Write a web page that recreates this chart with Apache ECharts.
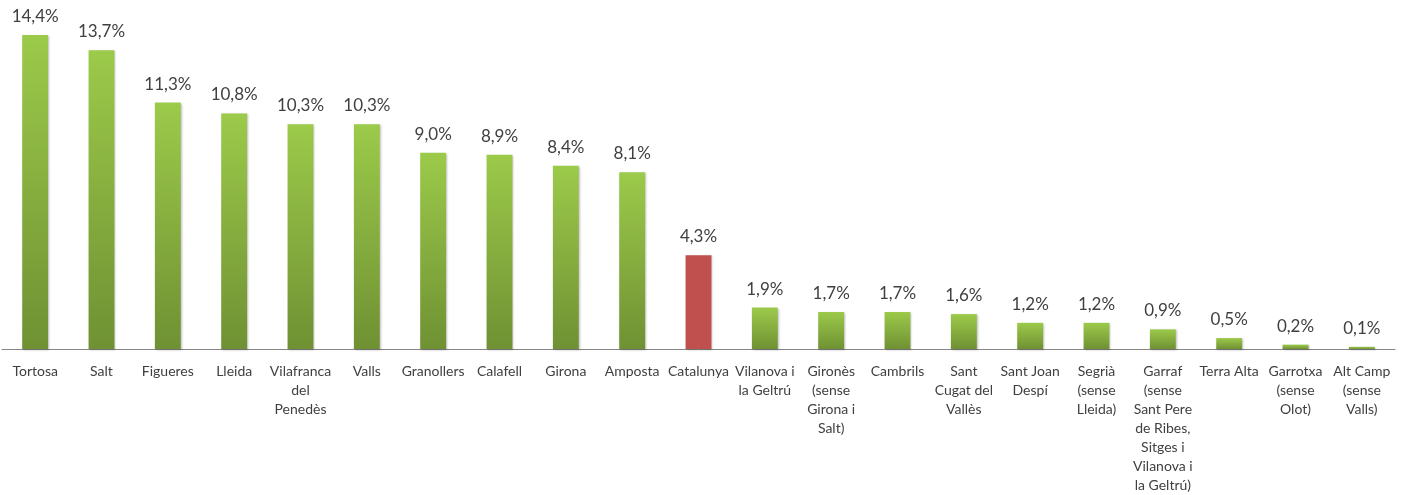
<!DOCTYPE html>
<html>
<head>
<meta charset="utf-8">
<script src="https://cdn.jsdelivr.net/npm/echarts@6/dist/echarts.min.js"></script>
<style>html,body{margin:0;padding:0;background:#fff;}#c{width:1408px;height:495px;}</style>
</head>
<body>
<div id="c"></div>
<script>
var categories = ["Tortosa","Salt","Figueres","Lleida","Vilafranca\ndel\nPenedès","Valls","Granollers","Calafell","Girona","Amposta","Catalunya","Vilanova i\nla Geltrú","Gironès\n(sense\nGirona i\nSalt)","Cambrils","Sant\nCugat del\nVallès","Sant Joan\nDespí","Segrià\n(sense\nLleida)","Garraf\n(sense\nSant Pere\nde Ribes,\nSitges i\nVilanova i\nla Geltrú)","Terra Alta","Garrotxa\n(sense\nOlot)","Alt Camp\n(sense\nValls)"];
var values = [14.4,13.7,11.3,10.8,10.3,10.3,9.0,8.9,8.4,8.1,4.3,1.9,1.7,1.7,1.6,1.2,1.2,0.9,0.5,0.2,0.1];
var highlight = "Catalunya";

var green = new echarts.graphic.LinearGradient(0,0,0,1,[{offset:0,color:'#9CCA4A'},{offset:1,color:'#6F9133'}]);
var data = values.map(function(v,i){
  return {value:v, itemStyle:{color: categories[i]===highlight ? '#C0504D' : green}};
});
var chart = echarts.init(document.getElementById('c'));
chart.setOption({
  animation:false,
  grid:{left:2,right:13,top:0,bottom:143,containLabel:false},
  xAxis:{type:'category',data:categories,
    axisLine:{lineStyle:{color:'#868686',width:1}},
    axisTick:{show:false},
    axisLabel:{interval:0,margin:13,color:'#404040',fontFamily:'Lato',fontSize:14,lineHeight:19,align:'center',verticalAlign:'top'}},
  yAxis:{type:'value',min:0,max:16,show:false,splitLine:{show:false}},
  series:[{type:'bar',data:data,barWidth:'39%',
    itemStyle:{shadowColor:'rgba(0,0,0,0.25)',shadowBlur:2,shadowOffsetX:1,shadowOffsetY:1},
    label:{show:true,position:'top',distance:10,color:'#404040',fontFamily:'Lato',fontSize:17,
      formatter:function(p){return p.value.toFixed(1).replace('.',',')+'%';}}}]
});
</script>
</body>
</html>
